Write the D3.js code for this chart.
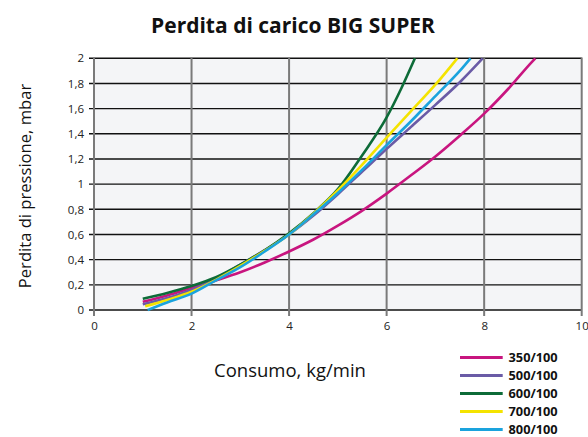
<!DOCTYPE html>
<html><head><meta charset="utf-8">
<script src="https://cdn.jsdelivr.net/npm/d3@7"></script>
<style>body{margin:0;background:#fff}svg{display:block}</style>
</head><body>
<script>
const title = "Perdita di carico BIG SUPER";
const xLabel = "Consumo, kg/min";
const yLabel = "Perdita di pressione, mbar";
const xTicks = [0, 2, 4, 6, 8, 10];
const yTicks = [0, 0.2, 0.4, 0.6, 0.8, 1, 1.2, 1.4, 1.6, 1.8, 2];
const seriesNames = ["350/100", "500/100", "600/100", "700/100", "800/100"];
const seriesColors = ["#c8157f", "#6a5ba6", "#0d6b38", "#f4e300", "#1aa3dd"];

const x350 = [1.0, 1.5, 2, 2.5, 3, 3.5, 4, 4.5, 5, 5.5, 6, 6.5, 7, 7.5, 8, 8.5, 9, 9.05];
const y350 = [0.065, 0.115, 0.175, 0.235, 0.30, 0.378, 0.465, 0.56, 0.67, 0.79, 0.925, 1.07, 1.22, 1.385, 1.56, 1.76, 1.98, 2.0];
const x500 = [1.0, 1.5, 2, 2.5, 3, 3.5, 4, 4.5, 5, 5.5, 6, 6.5, 7, 7.5, 7.97];
const y500 = [0.045, 0.095, 0.16, 0.25, 0.36, 0.475, 0.60, 0.75, 0.92, 1.10, 1.28, 1.455, 1.63, 1.81, 2.0];
const x600 = [1.0, 1.5, 2, 2.5, 3, 3.5, 4, 4.5, 5, 5.5, 6, 6.3, 6.58];
const y600 = [0.09, 0.135, 0.19, 0.26, 0.36, 0.475, 0.61, 0.77, 0.96, 1.23, 1.53, 1.76, 2.0];
const x700 = [1.05, 1.5, 2, 2.5, 3, 3.5, 4, 4.5, 5, 5.5, 6, 6.5, 7, 7.45];
const y700 = [0.03, 0.08, 0.145, 0.24, 0.35, 0.47, 0.60, 0.765, 0.95, 1.155, 1.37, 1.58, 1.79, 2.0];
const x800 = [1.1, 1.5, 2, 2.5, 3, 3.5, 4, 4.5, 5, 5.5, 6, 6.5, 7, 7.5, 7.72];
const y800 = [0.0, 0.06, 0.13, 0.235, 0.34, 0.465, 0.60, 0.76, 0.93, 1.115, 1.31, 1.50, 1.70, 1.90, 2.0];

const seriesX = [x350, x500, x600, x700, x800];
const seriesY = [y350, y500, y600, y700, y800];

const W = 588, H = 437;
const svg = d3.select("body").append("svg").attr("width", W).attr("height", H);
const pL = 94, pR = 581.7, pT = 58.3, pB = 310;
const x = d3.scaleLinear().domain([0, 10]).range([pL, pR]);
const y = d3.scaleLinear().domain([0, 2]).range([pB, pT]);
const fmt = d => String(d).replace(".", ",");

svg.append("rect").attr("x", pL).attr("y", pT).attr("width", pR - pL).attr("height", pB - pT).attr("fill", "#f4f5f7");

svg.append("g").selectAll("line").data(yTicks).join("line")
  .attr("x1", pL - 5).attr("x2", pR).attr("y1", d => y(d)).attr("y2", d => y(d))
  .attr("stroke", "#111").attr("stroke-width", 1.4);
svg.append("g").selectAll("line").data(xTicks).join("line")
  .attr("x1", d => x(d)).attr("x2", d => x(d)).attr("y1", pT - 0.7).attr("y2", pB + 6)
  .attr("stroke", "#7a7a7a").attr("stroke-width", 2);

const yAxis = svg.append("g").attr("transform", `translate(${pL - 5},0)`)
  .call(d3.axisLeft(y).tickValues(yTicks).tickFormat(fmt).tickSize(0).tickPadding(5));
yAxis.select(".domain").remove();
yAxis.selectAll("text").attr("font-family", "Open Sans, sans-serif").attr("font-size", 11.5).attr("fill", "#222");
const xAxis = svg.append("g").attr("transform", `translate(0,${pB + 6})`)
  .call(d3.axisBottom(x).tickValues(xTicks).tickFormat(fmt).tickSize(0).tickPadding(6));
xAxis.select(".domain").remove();
xAxis.selectAll("text").attr("font-family", "Open Sans, sans-serif").attr("font-size", 11.5).attr("fill", "#222");

const line = d3.line().x(d => x(d[0])).y(d => y(d[1])).curve(d3.curveMonotoneX);
seriesX.forEach((xs, i) => {
  const pts = xs.map((v, j) => [v, seriesY[i][j]]);
  svg.append("path").attr("d", line(pts)).attr("fill", "none")
    .attr("stroke", seriesColors[i]).attr("stroke-width", 2.6);
});

svg.append("text").attr("x", 293).attr("y", 33).attr("text-anchor", "middle")
  .attr("font-family", "Open Sans, sans-serif").attr("font-weight", 700).attr("font-size", 21)
  .attr("fill", "#111").text(title);
svg.append("text").attr("x", 290).attr("y", 377).attr("text-anchor", "middle")
  .attr("font-family", "Open Sans, sans-serif").attr("font-size", 18.5).attr("fill", "#111").text(xLabel);
svg.append("text").attr("transform", "translate(31,186) rotate(-90)").attr("text-anchor", "middle")
  .attr("font-family", "Open Sans, sans-serif").attr("font-size", 16.6).attr("fill", "#111").text(yLabel);

const lg = svg.append("g");
seriesNames.forEach((n, i) => {
  const yy = 357.5 + i * 18;
  lg.append("line").attr("x1", 460).attr("x2", 502.7).attr("y1", yy).attr("y2", yy)
    .attr("stroke", seriesColors[i]).attr("stroke-width", 3);
  lg.append("text").attr("x", 508.5).attr("y", yy + 4.4)
    .attr("font-family", "Open Sans, sans-serif").attr("font-weight", 700).attr("font-size", 12.8)
    .attr("fill", "#111").text(n);
});
</script>
</body></html>
